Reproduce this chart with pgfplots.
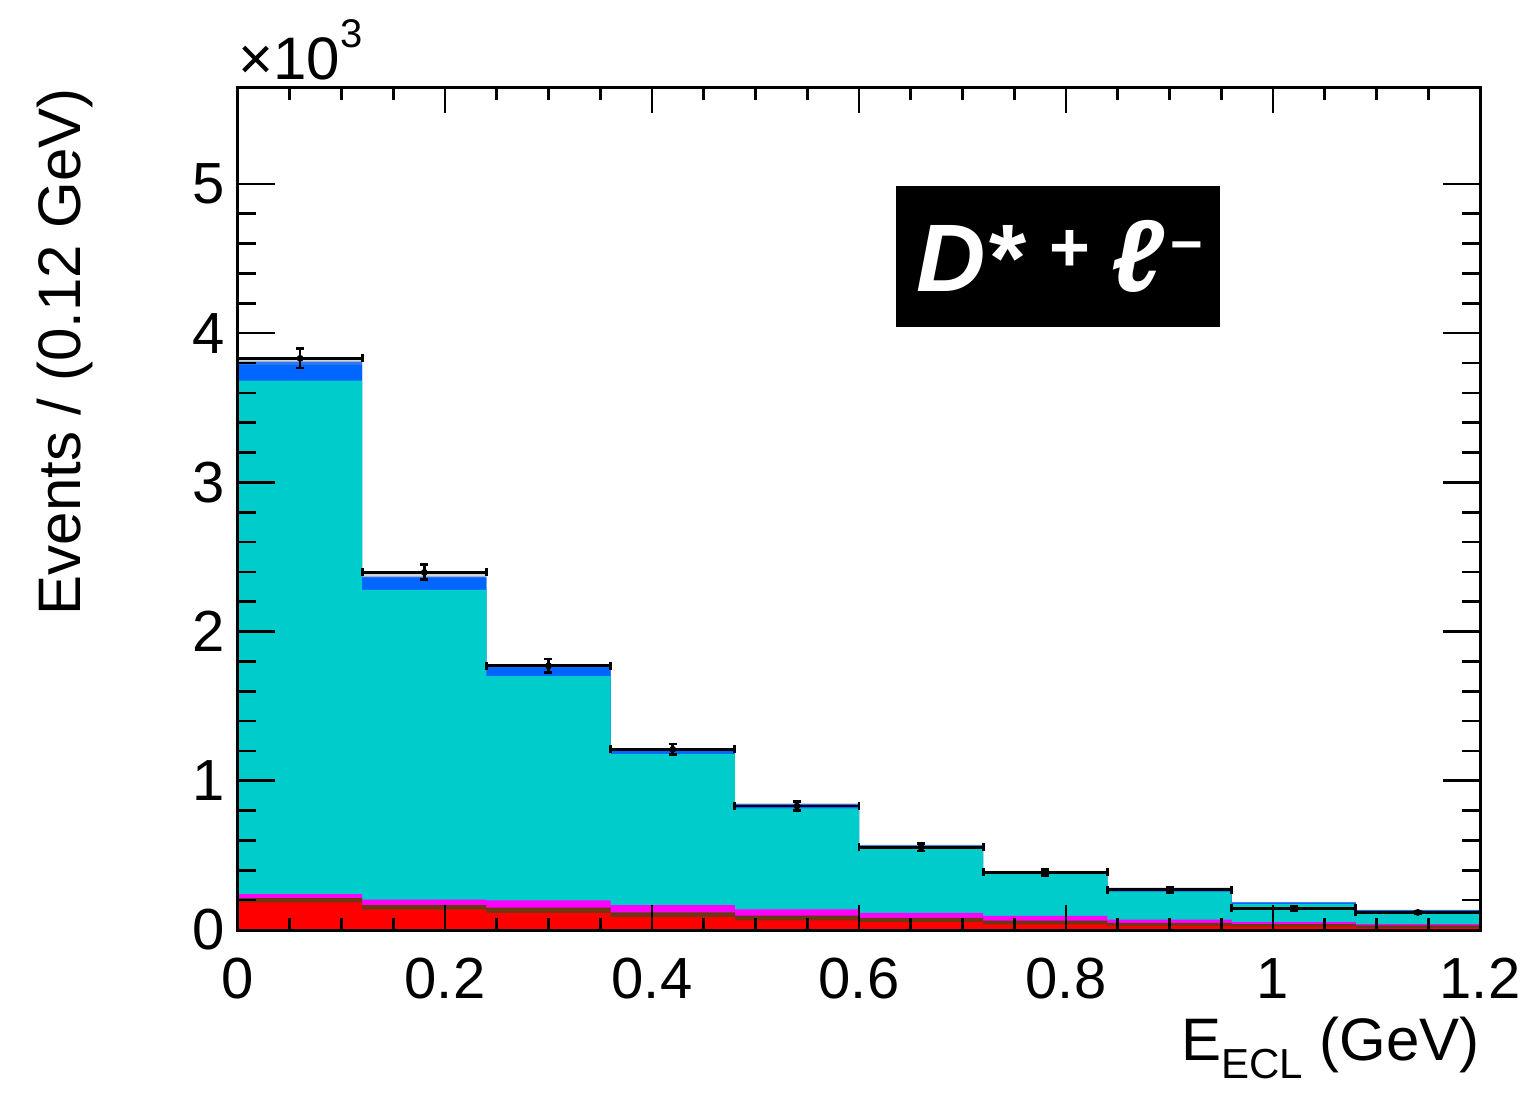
\documentclass[border=0pt]{standalone}
\usepackage{pgfplots}
\pgfplotsset{compat=1.18}
\usepackage{pgfplotstable}
\usepackage{fontspec}
\setmainfont{Liberation Sans}
\usetikzlibrary{calc}

\definecolor{cgray}{RGB}{212,212,212}
\definecolor{clblue}{RGB}{50,120,235}
\definecolor{cblue}{RGB}{0,102,255}
\definecolor{ccyan}{RGB}{0,204,204}
\definecolor{cmag}{RGB}{255,0,255}
\definecolor{cbrown}{RGB}{110,55,15}
\definecolor{cred}{RGB}{255,0,0}

% cumulative stack tops per bin (left edge x)
\pgfplotstableread{
x    gray lblue blue cyan mag brown red
0.00 3825 3809 3787 3682 240 213 186
0.12 2391 2368 2360 2279 203 167 136
0.24 1769 1763 1760 1702 199 150 114
0.36 1206 1203 1200 1180 167 118 87
0.48 849  845  840  815  139 96  65
0.60 572  568  565  550  115 81  52
0.72 397  393  390  380  94  63  38
0.84 286  281  278  257  69  47  27
0.96 188  185  183  174  53  40  22
1.08 136  134  133  129  40  31  13
1.20 136  134  133  129  40  31  13
}\stack

\pgfplotstableread{
x    y    ex   ey
0.06 3831 0.06 64
0.18 2397 0.06 50
0.30 1771 0.06 45
0.42 1211 0.06 36
0.54 831  0.06 30
0.66 554  0.06 25
0.78 386  0.06 21
0.90 270  0.06 18
1.02 145  0.06 13
1.14 118  0.06 10
}\data

\begin{document}
\begin{tikzpicture}
\begin{axis}[name=ax, width=621pt, height=421pt, scale only axis,
  xmin=0, xmax=1.2, ymin=0, ymax=5643,
  axis line style={line width=1.5pt},
  xtick={0,0.2,0.4,0.6,0.8,1,1.2}, xticklabels={0,0.2,0.4,0.6,0.8,1,1.2},
  ytick={0,1000,2000,3000,4000,5000}, yticklabels={0,1,2,3,4,5},
  minor x tick num=3, minor y tick num=4,
  tick align=inside, tick style={line width=1.3pt, black},
  xtick style={/pgfplots/major tick length=12.5pt, /pgfplots/minor tick length=6pt},
  ytick style={/pgfplots/major tick length=18.5pt, /pgfplots/minor tick length=9pt},
  ticklabel style={font=\fontsize{29}{34}\selectfont},
  xticklabel style={anchor=base, yshift=-34pt},
  yticklabel style={xshift=-3pt},
  axis on top,
  const plot mark left,
]
\addplot[fill=cgray, draw=none] table[x=x,y=gray]{\stack} \closedcycle;
\addplot[fill=clblue, draw=none] table[x=x,y=lblue]{\stack} \closedcycle;
\addplot[fill=cblue, draw=none] table[x=x,y=blue]{\stack} \closedcycle;
\addplot[fill=ccyan, draw=none] table[x=x,y=cyan]{\stack} \closedcycle;
\addplot[fill=cmag, draw=none] table[x=x,y=mag]{\stack} \closedcycle;
\addplot[fill=cbrown, draw=none] table[x=x,y=brown]{\stack} \closedcycle;
\addplot[fill=cred, draw=none] table[x=x,y=red]{\stack} \closedcycle;
\addplot[black, only marks, mark=*, mark size=1.5pt,
  error bars/.cd, x dir=both, x explicit, y dir=both, y explicit,
  error bar style={line width=1.4pt, black},
  error mark options={rotate=90, line width=1.4pt, mark size=2pt, black}]
  table[x=x, y=y, x error=ex, y error=ey]{\data};

\fill[black] (axis cs:0.6357,4042) rectangle (axis cs:0.9488,4987);
\node[text=white, anchor=base west, inner sep=0pt] at (axis cs:0.655,4276)
  {{\fontsize{48}{50}\selectfont\bfseries\itshape D*}\hspace{13pt}\raisebox{10pt}{\fontsize{35}{36}\selectfont\bfseries +}\hspace{11pt}{\fontsize{51}{52}\selectfont\bfseries\itshape ℓ}\hspace{3pt}\raisebox{14pt}{\fontsize{28}{30}\selectfont\bfseries −}};
\end{axis}
\node[rotate=90, anchor=base east, inner sep=0pt, font=\fontsize{30}{34}\selectfont]
  at ($(ax.north west)+(-78.5pt,0pt)$) {Events / (0.12 GeV)};
\node[anchor=base east, inner sep=0pt, font=\fontsize{30}{34}\selectfont]
  at ($(ax.south east)+(0pt,-65pt)$) {E\raisebox{-9pt}{\fontsize{21}{22}\selectfont ECL} (GeV)};
\node[anchor=base west, inner sep=0pt, font=\fontsize{30}{32}\selectfont]
  at ($(ax.north west)+(0pt,4pt)$) {×10\raisebox{16pt}{\fontsize{20}{22}\selectfont 3}};
\path ($(ax.south west)+(-119pt,-82.5pt)$) rectangle ($(ax.north east)+(29pt,44pt)$);
\end{tikzpicture}
\end{document}
